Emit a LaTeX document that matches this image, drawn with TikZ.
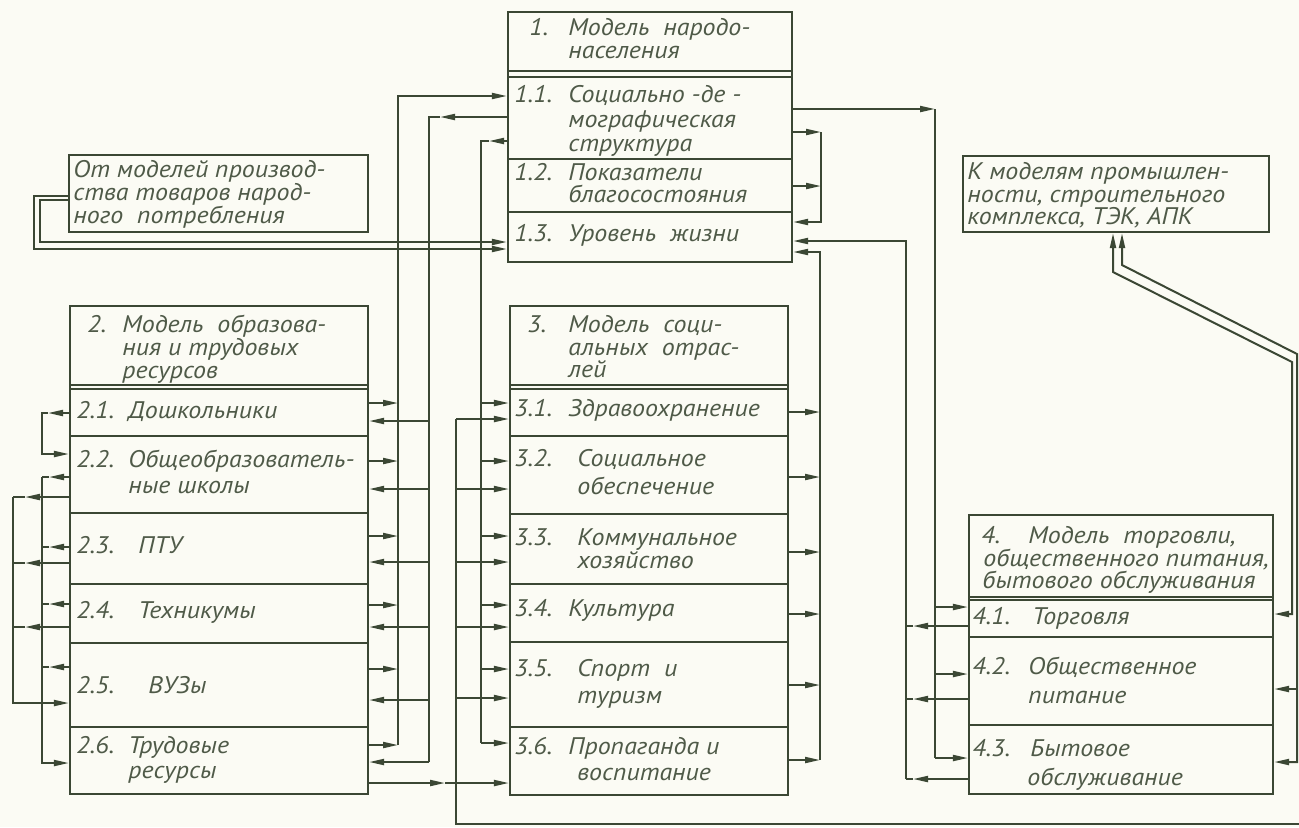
\documentclass[tikz,border=0pt]{standalone}
\usepackage{fontspec}
\setmainfont{PT Sans}
\newfontfamily\gostfam[FakeStretch=1.08]{PT Sans}
\usetikzlibrary{fit,arrows.meta}
\definecolor{ink}{HTML}{3B4734}
\definecolor{inktxt}{HTML}{4F5A48}
\definecolor{paper}{HTML}{FBFBF4}
\newcommand\gostf{\gostfam\fontsize{12pt}{13pt}\selectfont\itshape}
\newcommand\txtline[4]{\node[txt] (#1) at (#2,#3) {#4};}
\tikzset{
  ln/.style={draw=ink, line width=1pt},
  box/.style={draw=ink, line width=1.1pt, inner sep=0pt},
  arr/.style={-{Triangle[length=7.5pt,width=3pt]}},
  darr/.style={{Triangle[length=7.5pt,width=3pt]}-{Triangle[length=7.5pt,width=3pt]}},
  txt/.style={anchor=base west, inner sep=0pt, text=inktxt, font=\gostf},
}
\begin{document}
\begin{tikzpicture}[x=0.5pt,y=-0.5pt]
\fill[paper] (0,0) rectangle (1299,827);
\useasboundingbox (0,0) rectangle (1299,827);

% ---------- boxes ----------
% box 1
\node[box, fit={(508,12)(792,262)}] (b1) {};
\node[box, fit={(508,12)(792,71)}] (b1t) {};
\node[box, fit={(508,77)(792,159)}] (b11) {};
\node[box, fit={(508,159)(792,212)}] (b12) {};
\node[box, fit={(508,212)(792,262)}] (b13) {};
% box 2
\node[box, fit={(70,306)(368,794)}] (b2) {};
\node[box, fit={(70,306)(368,385)}] (b2t) {};
\node[box, fit={(70,389)(368,436)}] (b21) {};
\node[box, fit={(70,436)(368,513)}] (b22) {};
\node[box, fit={(70,513)(368,584)}] (b23) {};
\node[box, fit={(70,584)(368,643)}] (b24) {};
\node[box, fit={(70,643)(368,727)}] (b25) {};
\node[box, fit={(70,727)(368,794)}] (b26) {};
% box 3
\node[box, fit={(510,306)(788,795)}] (b3) {};
\node[box, fit={(510,306)(788,385)}] (b3t) {};
\node[box, fit={(510,389)(788,436)}] (b31) {};
\node[box, fit={(510,436)(788,514)}] (b32) {};
\node[box, fit={(510,514)(788,584)}] (b33) {};
\node[box, fit={(510,584)(788,642)}] (b34) {};
\node[box, fit={(510,642)(788,727)}] (b35) {};
\node[box, fit={(510,727)(788,795)}] (b36) {};
% box 4
\node[box, fit={(969,515)(1273,794)}] (b4) {};
\node[box, fit={(969,515)(1273,597)}] (b4t) {};
\node[box, fit={(969,600)(1273,637)}] (b41) {};
\node[box, fit={(969,637)(1273,725)}] (b42) {};
\node[box, fit={(969,725)(1273,794)}] (b43) {};
% side boxes
\node[box, fit={(69,155)(368,232)}] (bfrom) {};
\node[box, fit={(963,156)(1269,232)}] (bto) {};

% ---------- texts ----------
\txtline{t1a}{529}{35}{1.}
\txtline{t1b}{568}{35}{Модель\ \ народо-}
\txtline{t1c}{568}{58}{населения}
\txtline{t11a}{514}{102}{1.1.}
\txtline{t11b}{568}{102}{Социально -де -}
\txtline{t11c}{568}{127}{мографическая}
\txtline{t11d}{568}{151}{структура}
\txtline{t12a}{514}{180}{1.2.}
\txtline{t12b}{568}{180}{Показатели}
\txtline{t12c}{568}{202}{благосостояния}
\txtline{t13a}{514}{241}{1.3.}
\txtline{t13b}{568}{241}{Уровень\ \ жизни}

\txtline{t2a}{87}{332}{2.}
\txtline{t2b}{122}{332}{Модель\ \ образова-}
\txtline{t2c}{122}{355}{ния и трудовых}
\txtline{t2d}{122}{378}{ресурсов}
\txtline{t21a}{76}{418}{2.1.}
\txtline{t21b}{128}{418}{Дошкольники}
\txtline{t22a}{76}{467}{2.2.}
\txtline{t22b}{128}{467}{Общеобразователь-}
\txtline{t22c}{128}{493}{ные школы}
\txtline{t23a}{76}{553}{2.3.}
\txtline{t23b}{138}{553}{ПТУ}
\txtline{t24a}{76}{618}{2.4.}
\txtline{t24b}{138}{618}{Техникумы}
\txtline{t25a}{76}{693}{2.5.}
\txtline{t25b}{148}{693}{ВУЗы}
\txtline{t26a}{76}{753}{2.6.}
\txtline{t26b}{128}{753}{Трудовые}
\txtline{t26c}{128}{778}{ресурсы}

\txtline{t3a}{527}{332}{3.}
\txtline{t3b}{568}{332}{Модель\ \ соци-}
\txtline{t3c}{568}{355}{альных\ \ отрас-}
\txtline{t3d}{568}{377}{лей}
\txtline{t31a}{514}{416}{3.1.}
\txtline{t31b}{568}{416}{Здравоохранение}
\txtline{t32a}{514}{466}{3.2.}
\txtline{t32b}{577}{466}{Социальное}
\txtline{t32c}{577}{494}{обеспечение}
\txtline{t33a}{514}{545}{3.3.}
\txtline{t33b}{577}{545}{Коммунальное}
\txtline{t33c}{577}{568}{хозяйство}
\txtline{t34a}{514}{616}{3.4.}
\txtline{t34b}{568}{616}{Культура}
\txtline{t35a}{514}{676}{3.5.}
\txtline{t35b}{577}{676}{Спорт\ \ и}
\txtline{t35c}{577}{703}{туризм}
\txtline{t36a}{514}{754}{3.6.}
\txtline{t36b}{568}{754}{Пропаганда и}
\txtline{t36c}{577}{780}{воспитание}

\txtline{t4a}{981}{543}{4.}
\txtline{t4b}{1028}{543}{Модель\ \ торговли,}
\txtline{t4c}{983}{566}{общественного питания,}
\txtline{t4d}{982}{588}{бытового обслуживания}
\txtline{t41a}{972}{624}{4.1.}
\txtline{t41b}{1032}{624}{Торговля}
\txtline{t42a}{972}{674}{4.2.}
\txtline{t42b}{1028}{674}{Общественное}
\txtline{t42c}{1028}{703}{питание}
\txtline{t43a}{972}{756}{4.3.}
\txtline{t43b}{1030}{756}{Бытовое}
\txtline{t43c}{1027}{785}{обслуживание}

\txtline{tfa}{73}{177}{От моделей производ-}
\txtline{tfb}{73}{200}{ства товаров народ-}
\txtline{tfc}{73}{223}{ного\ \ потребления}
\txtline{tta}{967}{179}{К моделям промышлен-}
\txtline{ttb}{967}{202}{ности, строительного}
\txtline{ttc}{967}{224}{комплекса, ТЭК, АПК}

% ---------- connectors ----------
% bus A : box 2 -> 1.1
\draw[ln,arr] (398,745) |- (b11.west|-0,96);
\foreach \y/\n in {403/b21,461/b22,536/b23,605/b24,669/b25,745/b26}
  \draw[ln,arr] (\n.east|-0,\y) -- (398,\y);
% bus B : 1.1 -> box 2
\draw[ln,arr] (b11.west|-0,117) -- (440,117);
\draw[ln] (440,117) -| (429,762);
\foreach \y/\n in {421/b21,489/b22,562/b23,627/b24,700/b25,762/b26}
  \draw[ln,arr] (429,\y) -- (\n.east|-0,\y);
% bus C : 1.1 -> box 3
\draw[ln,arr] (b11.west|-0,141) -- (489,141);
\draw[ln] (489,141) -| (481,743);
\foreach \y/\n in {403/b31,461/b32,536/b33,605/b34,669/b35,743/b36}
  \draw[ln,arr] (481,\y) -- (\n.west|-0,\y);
% bus D : from the bottom -> box 3
\coordinate (din) at (1299,824);
\draw[ln] (din) -| (456,419);
\foreach \y/\n in {419/b31,489/b32,562/b33,627/b34,698/b35}
  \draw[ln,arr] (456,\y) -- (\n.west|-0,\y);
% 2.6 -> 3.6
\draw[ln,arr] (b26.east|-0,783) -- (445,783);
\draw[ln,arr] (445,783) -- (b36.west|-0,783);
% bus E : box 3 -> 1.3
\foreach \y/\n in {412/b31,477/b32,552/b33,614/b34,685/b35,760/b36}
  \draw[ln,arr] (\n.east|-0,\y) -- (820,\y);
\draw[ln,arr] (820,760) |- (b13.east|-0,252);
% loop right of box 1
\draw[ln,arr] (b11.east|-0,132) -- (821,132);
\draw[ln,arr] (b12.east|-0,186) -- (821,186);
\draw[ln,arr] (821,132) |- (b13.east|-0,222);
% bus F : 1.1 -> box 4
\draw[ln,arr] (b11.east|-0,109) -- (935,109);
\draw[ln] (935,109) -- (935,758);
\foreach \y/\n in {607/b41,674/b42,758/b43}
  \draw[ln,arr] (935,\y) -- (\n.west|-0,\y);
% bus G : box 4 -> 1.3
\foreach \y/\n in {626/b41,699/b42,779/b43}
  {\draw[ln,arr] (\n.west|-0,\y) -- (913,\y); \draw[ln] (913,\y) -- (906,\y);}
\draw[ln,arr] (906,779) |- (b13.east|-0,241);
% left of box 2
\draw[ln,arr] (b21.west|-0,413) -- (48,413);
\draw[ln,arr] (48,413) -| (42,454) -- (b22.west|-0,454);
\foreach \y/\n in {477/b22,547/b23,604/b24,667/b25}
  {\draw[ln,arr] (\n.west|-0,\y) -- (49,\y); \draw[ln] (49,\y) -- (42,\y);}
\draw[ln,arr] (42,477) |- (b26.west|-0,763);
\foreach \y/\n in {497/b22,563/b23,627/b24}
  {\draw[ln,arr] (\n.west|-0,\y) -- (25,\y); \draw[ln] (25,\y) -- (13,\y);}
\draw[ln,arr] (13,497) |- (b25.west|-0,703);
% from consumer goods models -> 1.3 (double line)
\draw[ln,arr] (bfrom.west|-0,196) -| (34,249) -- (b13.west|-0,249);
\draw[ln,arr] (bfrom.west|-0,200) -| (40,242) -- (b13.west|-0,242);
% box 4 <-> industry models (double line)
\draw[ln,darr] (b41.east|-0,614) -- (1292,614) -- (1292,362) -- (1113,272) -- (bto.south-|1113,0);
\draw[ln,darr] (b43.east|-0,762) -- (1297,762) -- (1297,354) -- (1122,265) -- (bto.south-|1122,0);
\draw[ln,arr] (1297,689) -- (b42.east|-0,689);
\end{tikzpicture}
\end{document}
